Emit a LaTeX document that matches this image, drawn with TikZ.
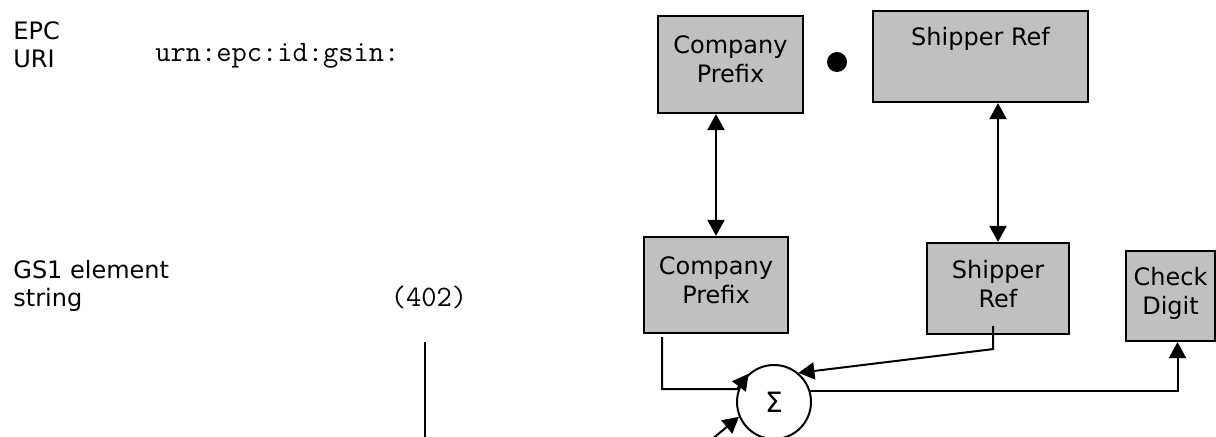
\documentclass[tikz,border=0pt]{standalone}
\usepackage{fontspec}
\setmainfont{DejaVu Sans}
\usetikzlibrary{arrows.meta}
\definecolor{boxgray}{HTML}{C0C0C0}

\begin{document}
\begin{tikzpicture}[x=0.5pt,y=-0.5pt,font=\fontsize{12}{14.5}\selectfont,
  >={Triangle[length=8pt,width=8.5pt]},
  box/.style={draw,line width=1.1pt,fill=boxgray,align=center,inner sep=0pt,text depth=5pt},
  lbl/.style={align=left,inner sep=0pt,font=\fontsize{12}{14}\selectfont},
  code/.style={inner sep=0pt,font=\ttfamily\fontsize{14.8}{17}\selectfont},
  link/.style={line width=1pt},
  dot/.style={circle,fill,inner sep=0pt,minimum size=10pt}]
\useasboundingbox (0,0) rectangle (1216,437);
\node[lbl,anchor=base west] (epc) at (13,68) {EPC\\URI};
\node[code,anchor=base west] (urn) at (155,62) {urn:epc:id:gsin:};
\node[lbl,anchor=base west] (gs1) at (13,307) {GS1 element\\string};
\node[code,anchor=base] (ai) at (429,307) {(402)};
\coordinate (aitop) at (425,342);
\coordinate (aibot) at (425,440);
\coordinate (extra) at (711,440);
\node[box,minimum width=72.5pt,minimum height=48.5pt] (cptop) at (730.5,64.5) {Company\\Prefix};
\node[dot] (sep) at (837,62) {};
\node[box,minimum width=107.5pt,minimum height=45.5pt,label={[anchor=base,yshift=-18pt]north:Shipper Ref}] (shtop) at (980.5,56.5) {};
\node[box,minimum width=72pt,minimum height=48pt] (cpbot) at (716,285) {Company\\Prefix};
\node[box,minimum width=71pt,minimum height=45.5pt] (shbot) at (998,288.5) {Shipper\\Ref};
\node[box,minimum width=44.5pt,minimum height=45pt] (check) at (1170.5,296) {Check\\Digit};
\node[draw,circle,line width=1pt,minimum size=37pt,inner sep=0pt,font=\fontsize{14}{16}\selectfont] (sum) at (774,402) {Σ};
\draw[link,<->] (cptop.south -| cpbot.north) -- (cpbot.north);
\draw[link,<->] (shtop.south -| shbot.north) -- (shbot.north);
\draw[link,->] ([xshift=-27pt,yshift=-1.5pt]cpbot.south) -- ++(0,52) -- ++(75,0) -- (sum.132);
\draw[link,->] ([xshift=-2.5pt,yshift=4.5pt]shbot.south) -- ++(0,23) -- (sum.50);
\draw[link,->] (sum.17) -| ([xshift=3.5pt]check.south);
\draw[link,->] (extra) -- (sum.203);
\draw[link] (aitop) -- (aibot);
\end{tikzpicture}
\end{document}
